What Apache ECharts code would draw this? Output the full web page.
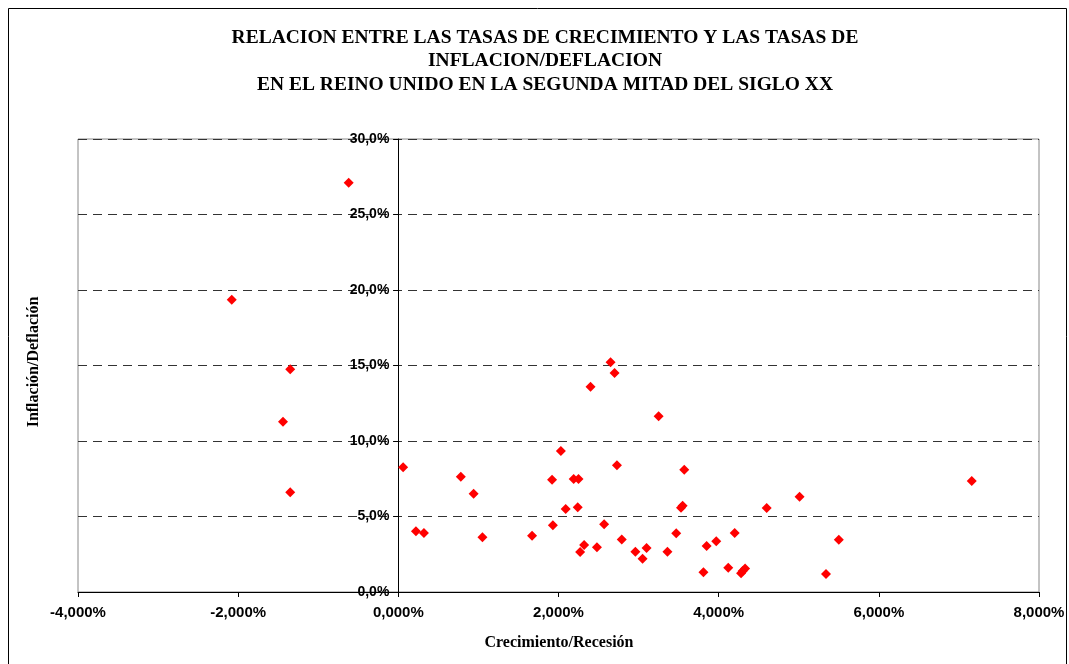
<!DOCTYPE html>
<html>
<head>
<meta charset="utf-8">
<script src="https://cdn.jsdelivr.net/npm/echarts@6/dist/echarts.min.js"></script>
<style>html,body{margin:0;padding:0;background:#fff}#c{width:1069px;height:664px}</style>
</head>
<body>
<div id="c"></div>
<script>
const titleLines = [
  'RELACION ENTRE LAS TASAS DE CRECIMIENTO Y LAS TASAS DE',
  'INFLACION/DEFLACION',
  'EN EL REINO UNIDO EN LA SEGUNDA MITAD DEL SIGLO XX'
];
const xName = 'Crecimiento/Recesión';
const yName = 'Inflación/Deflación';
// growth rate (%)
const growth = [-0.62, -2.08, -1.35, -1.44, -1.35,
  0.06, 0.22, 0.32, 0.78, 0.94, 1.05, 1.67, 1.92, 1.93, 2.03,
  2.09, 2.19, 2.25, 2.24, 2.27, 2.32, 2.40, 2.48, 2.57, 2.65,
  2.70, 2.73, 2.79, 2.96, 3.05, 3.10, 3.25, 3.36, 3.47, 3.53,
  3.55, 3.57, 3.81, 3.85, 3.97, 4.20, 4.12, 4.28, 4.30, 4.33,
  4.60, 5.01, 5.34, 5.50, 7.16];
// inflation rate (%)
const inflation = [27.1, 19.36, 14.75, 11.28, 6.6,
  8.26, 4.02, 3.91, 7.64, 6.51, 3.62, 3.73, 7.44, 4.42, 9.34,
  5.50, 7.48, 7.48, 5.61, 2.65, 3.11, 13.6, 2.96, 4.48, 15.21,
  14.5, 8.39, 3.47, 2.67, 2.21, 2.91, 11.64, 2.67, 3.89, 5.58,
  5.72, 8.1, 1.30, 3.05, 3.36, 3.91, 1.60, 1.24, 1.39, 1.56,
  5.56, 6.31, 1.19, 3.46, 7.35];
const xTicks = {min: -4, max: 8, interval: 2};
const yTicks = {min: 0, max: 30, interval: 5};

const points = growth.map((g, i) => [g, inflation[i]]);
const chart = echarts.init(document.getElementById('c'), null, {renderer: 'canvas'});
const serif = '"Liberation Serif","Times New Roman",serif';
const sans = '"Liberation Sans",Arial,sans-serif';
const gridLeft = 78, gridRight = 30;
const plotW = 1069 - gridLeft - gridRight;
// place the y axis where x = 0, computed from the x scale
const yAxisOffset = -plotW * (0 - xTicks.min) / (xTicks.max - xTicks.min);
chart.setOption({
  animation: false,
  backgroundColor: '#fff',
  grid: {left: gridLeft, right: gridRight, top: 139, bottom: 72, show: true, borderColor: '#888', borderWidth: 1, backgroundColor: 'transparent'},
  graphic: [
    {type: 'rect', left: 6, top: 6, shape: {width: 1058, height: 670}, style: {fill: 'none', stroke: '#000', lineWidth: 1}, silent: true, z: -1},
    {type: 'text', x: 545, y: 38, style: {text: titleLines[0], font: 'bold 19.5px ' + serif, fill: '#000', textAlign: 'center', textVerticalAlign: 'middle'}},
    {type: 'text', x: 545, y: 61, style: {text: titleLines[1], font: 'bold 19.5px ' + serif, fill: '#000', textAlign: 'center', textVerticalAlign: 'middle'}},
    {type: 'text', x: 545, y: 85, style: {text: titleLines[2], font: 'bold 19.5px ' + serif, fill: '#000', textAlign: 'center', textVerticalAlign: 'middle'}},
    {type: 'text', x: 559, y: 643, style: {text: xName, font: 'bold 16px ' + serif, fill: '#000', textAlign: 'center', textVerticalAlign: 'middle'}},
    {type: 'text', x: 34, y: 362, rotation: Math.PI / 2, style: {text: yName, font: 'bold 16px ' + serif, fill: '#000', textAlign: 'center', textVerticalAlign: 'middle'}}
  ],
  xAxis: {
    type: 'value', min: xTicks.min, max: xTicks.max, interval: xTicks.interval,
    axisLine: {show: true, onZero: false, lineStyle: {color: '#000', width: 1}},
    axisTick: {show: true, length: 5, lineStyle: {color: '#000'}},
    splitLine: {show: false},
    axisLabel: {margin: 13, color: '#000', fontSize: 15, fontWeight: 'bold', fontFamily: sans,
      formatter: v => v.toFixed(3).replace('.', ',') + '%'}
  },
  yAxis: {
    type: 'value', min: yTicks.min, max: yTicks.max, interval: yTicks.interval,
    offset: yAxisOffset,
    axisLine: {show: true, onZero: false, lineStyle: {color: '#000', width: 1}},
    axisTick: {show: true, length: 5, lineStyle: {color: '#000'}},
    splitLine: {show: true, lineStyle: {color: '#333', type: [9, 6], width: 1}},
    axisLabel: {margin: 9, color: '#000', fontSize: 14, fontWeight: 'bold', fontFamily: sans,
      formatter: v => v.toFixed(1).replace('.', ',') + '%'}
  },
  series: [{
    type: 'scatter', data: points, symbol: 'diamond', symbolSize: 10,
    itemStyle: {color: '#ff0000', opacity: 1}, z: 3
  }]
});
</script>
</body>
</html>
